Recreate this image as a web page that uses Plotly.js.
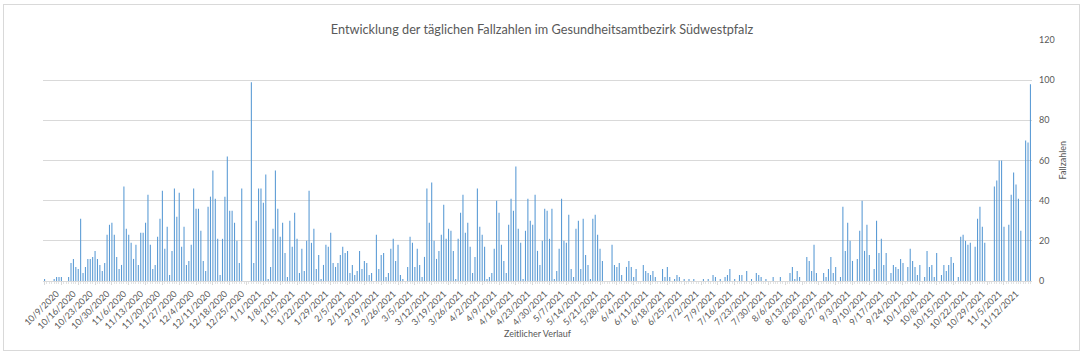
<!DOCTYPE html>
<html>
<head>
<meta charset="utf-8">
<script src="https://cdn.plot.ly/plotly-3.0.1.min.js"></script>
<style>
  html, body { margin: 0; padding: 0; background: #ffffff; }
  #chart { position: absolute; left: 0; top: 0; width: 1084px; height: 355px; }
  #frame { position: absolute; left: 3px; top: 4px; width: 1075px; height: 345px; border: 1px solid #d9d9d9; pointer-events: none; }
</style>
</head>
<body>
<div id="chart"></div>
<div id="frame"></div>
<script>
// ---- data ----
const chartTitle = "Entwicklung der täglichen Fallzahlen im Gesundheitsamtbezirk Südwestpfalz";
const xTitle = "Zeitlicher Verlauf";
const yTitle = "Fallzahlen";
const startDate = "2020-10-09";          // first day of the daily series
const tickStart = "2020-10-09";          // first weekly label
const tickEnd = "2021-11-12";            // last weekly label
const yTicks = [0, 20, 40, 60, 80, 100, 120];

// daily case counts, one value per day starting 10/9/2020
const cases = [
  1,0,0,0,1,2,2,2,0,0,2,9,11,7,6,31,4,7,11,11,12,15,11,8,5,9,23,28,29,23,12,6,8,47,26,23,19,
  11,18,8,24,24,29,43,18,6,8,22,31,45,16,27,3,15,46,32,44,17,27,8,10,18,46,36,36,25,10,5,37,42,55,41,21,3,21,42,
  62,35,35,29,20,9,46,0,0,0,99,
  9,30,46,46,39,53,1,7,26,55,36,22,29,14,2,30,17,34,21,4,16,5,20,45,19,26,6,
  13,1,8,18,17,24,9,7,9,13,17,14,15,4,8,3,5,15,6,10,9,3,4,0,23,6,13,14,2,4,16,21,10,18,3,1,0,7,22,
  19,7,16,8,2,12,46,29,49,20,11,15,23,38,21,26,25,15,1,21,34,43,24,29,17,4,12,46,27,23,17,1,2,4,16,40,34,18,
  10,4,28,41,35,57,26,19,1,25,41,30,28,43,15,8,20,36,35,21,36,1,5,16,41,20,19,33,6,2,26,30,6,31,13,8,1,31,
  33,23,16,10,0,0,0,18,8,7,9,3,0,7,10,7,2,6,0,0,8,5,4,3,5,2,0,0,6,2,7,2,0,1,3,2,0,1,
  0,1,0,1,0,0,0,1,0,1,0,3,2,0,1,0,2,3,6,0,1,0,3,3,0,5,0,1,0,4,3,2,0,1,0,0,
  2,0,0,2,0,0,0,4,7,1,5,2,0,0,12,10,5,18,4,0,0,4,2,6,12,4,7,0,2,37,15,29,20,10,0,11,25,40,15,28,
  13,0,6,30,14,21,8,14,0,4,8,7,6,11,9,0,7,16,10,7,3,8,0,2,15,7,8,2,14,0,3,8,5,8,12,9,0,2,
  22,23,20,18,19,0,17,31,37,27,19,0,0,0,47,50,60,60,27,0,28,43,54,48,41,25,0,70,69,98
];

// ---- helpers ----
const DAY = 86400000;
function toUTC(s) { const p = s.split("-").map(Number); return Date.UTC(p[0], p[1]-1, p[2]); }
function iso(ms) { return new Date(ms).toISOString().slice(0, 10); }
function mdy(ms) { const d = new Date(ms); return (d.getUTCMonth()+1) + "/" + d.getUTCDate() + "/" + d.getUTCFullYear(); }

const t0 = toUTC(startDate);
const dates = cases.map((_, i) => iso(t0 + i * DAY));

const tickVals = [], tickText = [];
for (let t = toUTC(tickStart); t <= toUTC(tickEnd); t += 7 * DAY) { tickVals.push(iso(t)); tickText.push(mdy(t)); }

const xMin = new Date(t0 - 0.65 * DAY).toISOString();
const xMax = new Date(t0 + (cases.length - 1 + 0.65) * DAY).toISOString();

const txt = "#595959";
const fontFam = "Lato, 'Open Sans', 'Liberation Sans', sans-serif";

Plotly.newPlot("chart", [{
  type: "bar",
  x: dates,
  y: cases,
  marker: { color: "#5b9bd5", line: { width: 0 } },
  hoverinfo: "x+y"
}], {
  width: 1084, height: 355,
  margin: { l: 43, r: 52, t: 40, b: 74, pad: 0 },
  paper_bgcolor: "#ffffff",
  plot_bgcolor: "#ffffff",
  bargap: 0.55,
  showlegend: false,
  font: { family: fontFam, color: txt, size: 9 },
  title: {
    text: chartTitle,
    font: { family: fontFam, size: 12.7, color: txt },
    x: 0.5, xref: "container", xanchor: "center",
    y: 1 - 30 / 355, yref: "container", yanchor: "middle"
  },
  xaxis: {
    type: "date",
    range: [xMin, xMax],
    tickmode: "array",
    tickvals: tickVals,
    ticktext: tickText,
    tickangle: -45,
    ticklabelshift: 12,
    tickfont: { family: fontFam, size: 9, color: txt },
    showgrid: false,
    showline: true, linecolor: "#d9d9d9", linewidth: 1,
    ticks: "outside", ticklen: 3, tickcolor: "#d9d9d9",
    minor: { dtick: DAY, ticks: "outside", ticklen: 2, tickcolor: "#e3e3e3", showgrid: false },
    zeroline: false,
    title: { text: xTitle, font: { family: fontFam, size: 9, color: txt }, standoff: 0 }
  },
  yaxis: {
    side: "right",
    range: [0, 120],
    tickmode: "array",
    tickvals: yTicks,
    ticktext: yTicks.map(String),
    tickfont: { family: fontFam, size: 9, color: txt },
    showgrid: true, gridcolor: "#d9d9d9", gridwidth: 1,
    zeroline: false, showline: false,
    ticks: "", ticklabelstandoff: 6
  },
  annotations: [{
    text: yTitle,
    xref: "paper", yref: "paper",
    x: (1062 - 43) / 989, y: 0.5,
    xanchor: "center", yanchor: "middle",
    textangle: -90, showarrow: false,
    font: { family: fontFam, size: 9, color: txt }
  }]
}, { displayModeBar: false, staticPlot: true });
</script>
</body>
</html>
